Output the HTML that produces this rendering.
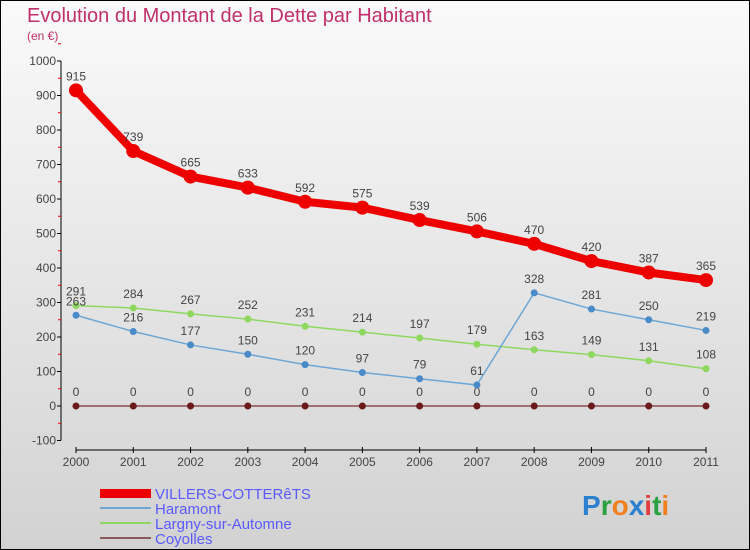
<!DOCTYPE html>
<html><head><meta charset="utf-8"><style>
body{margin:0;width:750px;height:550px;overflow:hidden;font-family:"Liberation Sans",sans-serif}
#wrap{position:absolute;left:0;top:0;width:748px;height:548px;border:1px solid #000;background:linear-gradient(#fafafa,#d2d2d2)}
</style></head><body>
<div id="wrap">
<svg id="chart" width="750" height="550" style="position:absolute;left:-1px;top:-1px">
<text x="27" y="22" font-size="20" fill="#c0306a">Evolution du Montant de la Dette par Habitant</text>
<text x="27" y="40" font-size="12" fill="#c0306a">(en €)</text>
<g id="axes"></g><g id="series"></g>
<g font-size="15" fill="#5a5aff">
<rect x="100" y="489" width="51" height="9" fill="#e00"/>
<text x="155" y="499">VILLERS-COTTERêTS</text>
<rect x="100" y="507" width="51" height="2" fill="#6ea6d4"/>
<text x="155" y="514">Haramont</text>
<rect x="100" y="522" width="51" height="2" fill="#8fd860"/>
<text x="155" y="529">Largny-sur-Automne</text>
<rect x="100" y="537" width="51" height="2" fill="#8a5a5a"/>
<text x="155" y="544">Coyolles</text>
</g>
<text x="582" y="515" font-size="28" font-weight="bold"><tspan fill="#2a7fd0">P</tspan><tspan fill="#2aa040">r</tspan><tspan fill="#f08020">o</tspan><tspan fill="#2a7fd0">x</tspan><tspan fill="#e04040">i</tspan><tspan fill="#2aa040">t</tspan><tspan fill="#f08020">i</tspan></text>
</svg></div>
<script>
const years=["2000","2001","2002","2003","2004","2005","2006","2007","2008","2009","2010","2011"];
const villers=[915,739,665,633,592,575,539,506,470,420,387,365];
const haramont=[263,216,177,150,120,97,79,61,328,281,250,219];
const largny=[291,284,267,252,231,214,197,179,163,149,131,108];
const coyolles=[0,0,0,0,0,0,0,0,0,0,0,0];
const yTicks=[-100,0,100,200,300,400,500,600,700,800,900,1000];
const NS="http://www.w3.org/2000/svg";
const X=i=>76+i*(630/11);
const Y=v=>406-v*0.345;
function mk(t,a,p){const e=document.createElementNS(NS,t);for(const k in a)e.setAttribute(k,a[k]);p.appendChild(e);return e;}
const ax=document.getElementById('axes'),sg=document.getElementById('series');
let l=mk('line',{x1:61,y1:Y(1000),x2:61,y2:Y(-100),stroke:'#000'},ax);


yTicks.forEach(v=>{
 mk('line',{x1:57,x2:61,y1:Y(v),y2:Y(v),stroke:'#000'},ax);
 mk('line',{x1:58,x2:61,y1:Y(v+50),y2:Y(v+50),stroke:'#e00'},ax);
 const t=mk('text',{x:56,y:Y(v)+4,'font-size':12,'text-anchor':'end',fill:'#444'},ax);
 t.textContent=v;
 
 
});
l=mk('line',{x1:X(0),y1:450,x2:X(11),y2:450,stroke:'#000'},ax);


years.forEach((y,i)=>{
 mk('line',{x1:X(i),x2:X(i),y1:447,y2:453,stroke:'#000'},ax);
 const t=mk('text',{x:X(i),y:466,'font-size':12,'text-anchor':'middle',fill:'#444'},ax);
 t.textContent=y;
 
 
});
function series(vals,color,w,r,name,dot){
 const p=mk('polyline',{points:vals.map((v,i)=>X(i)+','+Y(v)).join(' '),fill:'none',stroke:color,'stroke-width':w,'stroke-linejoin':'round'},sg);
 
 
 vals.forEach((v,i)=>{
  const c=mk('circle',{cx:X(i),cy:Y(v),r:r,fill:dot},sg);
  
  
  const t=mk('text',{x:X(i),y:Y(v)-10,'font-size':12,'text-anchor':'middle',fill:'#444'},sg);
  t.textContent=v;
  
  
 });
}
series(coyolles,'#a07070',2,3.5,'coyolles','#6a1a1a');
series(largny,'#8fd860',1.5,3.5,'largny','#8fd860');
series(haramont,'#6ea6d4',1.5,3.5,'haramont','#4a8ac8');
series(villers,'#e00',8,7,'villers','#e00');
</script>
</body></html>
